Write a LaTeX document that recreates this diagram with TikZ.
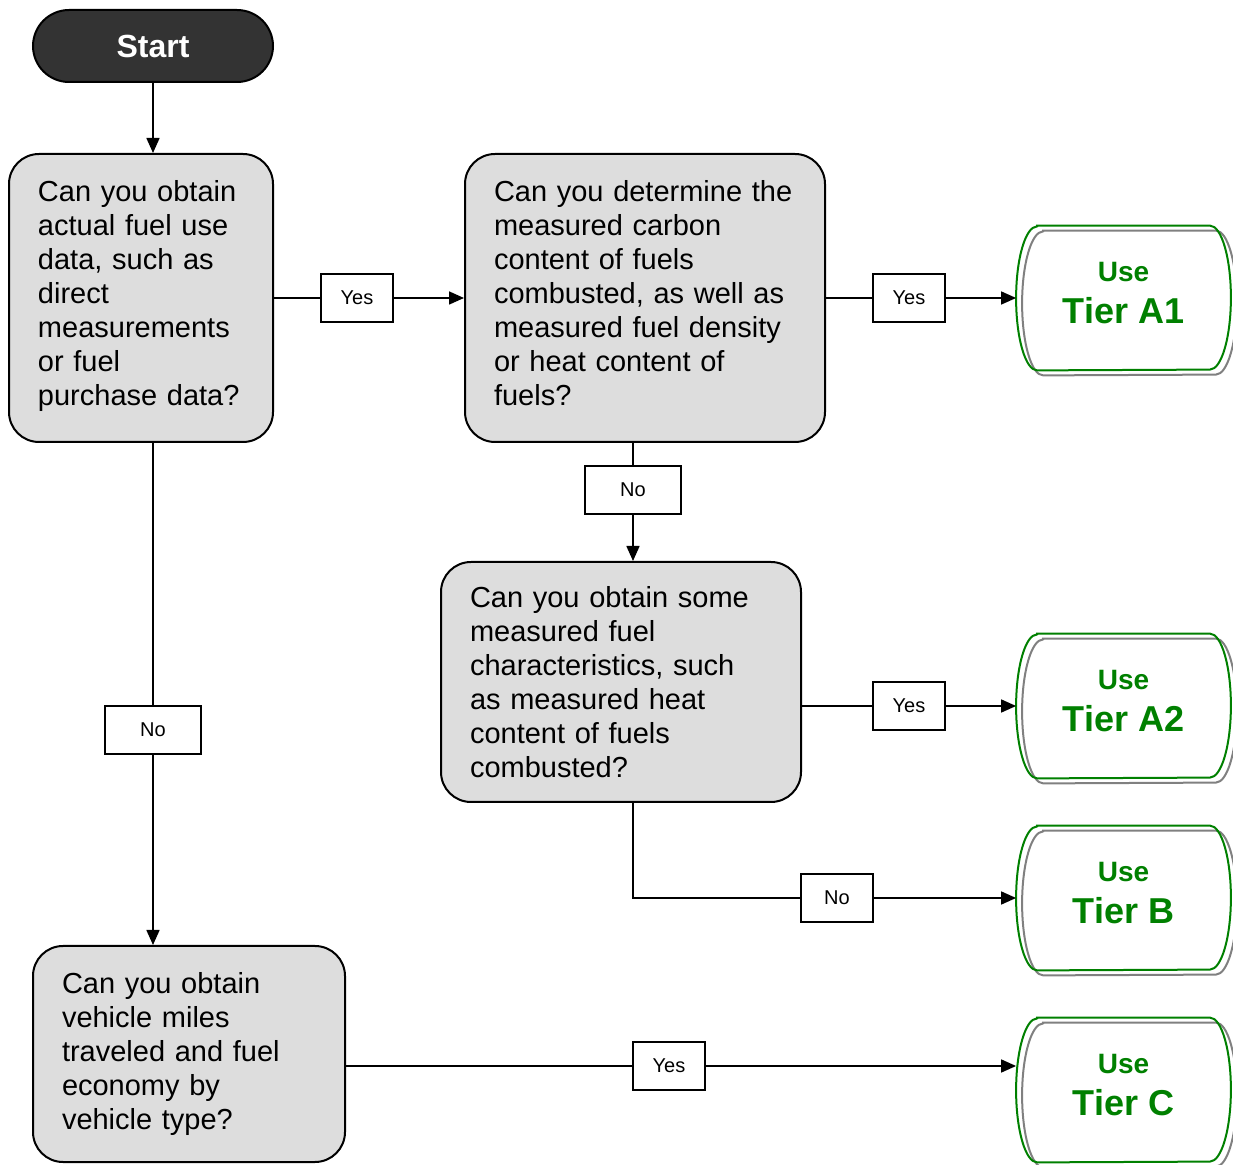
\documentclass[tikz,border=0pt]{standalone}
\usepackage{fontspec}
\setmainfont{Liberation Sans}
\usetikzlibrary{arrows.meta}

\definecolor{startgray}{RGB}{51,51,51}
\definecolor{boxgray}{RGB}{221,221,221}
\definecolor{tiergreen}{RGB}{0,128,0}
\definecolor{shadowgray}{RGB}{128,128,128}

\tikzset{
	startbox/.style={draw, line width=1pt, fill=startgray, text=white, rounded corners=18pt,
		minimum width=120pt, minimum height=36pt, font=\fontsize{16}{19}\selectfont\bfseries},
	question/.style={draw, line width=1pt, fill=boxgray, rounded corners=15pt, inner xsep=14.5pt,
		align=left, font=\fontsize{14.5}{17}\selectfont},
	answer/.style={draw, line width=0.75pt, fill=white, minimum width=36pt, minimum height=24pt,
		font=\fontsize{10}{12}\selectfont},
	tier/.style={minimum width=107pt, minimum height=72pt, align=center, text=tiergreen,
		text depth=5pt, font=\fontsize{14}{21}\selectfont\bfseries},
	tierline/.style={line width=1pt, tiergreen},
	tiershadow/.style={line width=1pt, shadowgray},
	flow/.style={line width=0.8pt, -{Triangle[length=7.5pt,width=6.5pt]}},
}

% outline of a tier box: flat top and bottom, half ellipses at the sides
\newcommand{\tieroutline}[2]{%
	\draw[#2] ([xshift=10.5pt]#1.north west) -- ([xshift=-10.5pt]#1.north east)
		arc[start angle=90, end angle=-90, x radius=10.5pt, y radius=36pt]
		-- ([xshift=10.5pt]#1.south west)
		arc[start angle=270, end angle=90, x radius=10.5pt, y radius=36pt] -- cycle;}
% a little extra depth under the last line of a question
\newcommand{\lastdepth}{\rule[-5pt]{0pt}{5pt}}

\begin{document}
\begin{tikzpicture}[x=0.5pt, y=0.5pt]

			\useasboundingbox (0,0) rectangle (1233,-1165);

			\node [startbox] (start) at (153,-46) {Start};

			\node [question, text width=103pt, minimum height=144pt] (q1) at (141,-298)
				{Can you obtain\\actual fuel use\\data, such as\\direct\\measurements\\or fuel\\purchase data?\lastdepth};
			\node [question, text width=151pt, minimum height=144pt] (q2) at (645,-298)
				{Can you determine the\\measured carbon\\content of fuels\\combusted, as well as\\measured fuel density\\or heat content of\\fuels?\lastdepth};
			\node [question, text width=151pt, minimum height=120pt] (q3) at (621,-682)
				{Can you obtain some\\measured fuel\\characteristics, such\\as measured heat\\content of fuels\\combusted?};
			\node [question, text width=127pt, minimum height=108pt] (q4) at (189,-1054)
				{Can you obtain\\vehicle miles\\traveled and fuel\\economy by\\vehicle type?};

			\node [tier] (a1) at (1123.5,-298) {Use\\{\fontsize{18}{21}\selectfont Tier A1}};
			\node [tier] (a2) at (1123.5,-706) {Use\\{\fontsize{18}{21}\selectfont Tier A2}};
			\node [tier] (b) at (1123.5,-898) {Use\\{\fontsize{18}{21}\selectfont Tier B}};
			\node [tier] (c) at (1123.5,-1090) {Use\\{\fontsize{18}{21}\selectfont Tier C}};

			\begin{scope}[transform canvas={xshift=3pt, yshift=-2.5pt}]
				\foreach \t in {a1,a2,b,c} {\tieroutline{\t}{tiershadow}}
			\end{scope}
			\foreach \t in {a1,a2,b,c} {\tieroutline{\t}{tierline}}

			\node [answer] (yes1) at (357,-298) {Yes};
			\node [answer] (yes2) at (909,-298) {Yes};
			\node [answer, minimum width=48pt] (no2) at (633,-490) {No};
			\node [answer] (yes3) at (909,-706) {Yes};
			\node [answer] (no3) at (837,-898) {No};
			\node [answer, minimum width=48pt] (no1) at (153,-730) {No};
			\node [answer] (yes4) at (669,-1066) {Yes};

			\draw [flow] (start.south) -- (start.south |- q1.north);

			\draw [line width=0.8pt] (q1) -- (yes1);
			\draw [flow] (yes1) -- (q2);
			\draw [line width=0.8pt] (q2) -- (yes2);
			\draw [flow] (yes2) -- (a1);

			\draw [line width=0.8pt] (no2) -- (no2 |- q2.south);
			\draw [flow] (no2) -- (no2 |- q3.north);
			\draw [line width=0.8pt] (q3.east |- yes3) -- (yes3);
			\draw [flow] (yes3) -- (a2);
			\draw [line width=0.8pt] (q3.south -| no2) |- (no3);
			\draw [flow] (no3) -- (b);

			\draw [line width=0.8pt] (no1) -- (no1 |- q1.south);
			\draw [flow] (no1) -- (no1 |- q4.north);
			\draw [line width=0.8pt] (q4.east |- yes4) -- (yes4);
			\draw [flow] (yes4) -- (c.west |- yes4);
		\end{tikzpicture}
\end{document}
